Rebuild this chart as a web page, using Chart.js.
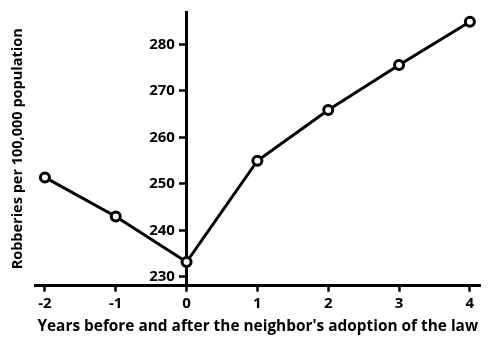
<!DOCTYPE html>
<html>
<head>
<meta charset="utf-8">
<script src="https://cdn.jsdelivr.net/npm/chart.js@4"></script>
<style>
  html, body { margin: 0; padding: 0; background: #fff; }
  #wrap { width: 488px; height: 337px; }
</style>
</head>
<body>
<div id="wrap"><canvas id="c" width="488" height="337"></canvas></div>
<script>
// Years relative to the neighbouring state's adoption of the law
const years = [-2, -1, 0, 1, 2, 3, 4];
// Robberies per 100,000 population
const robberies = [251.4, 243.0, 233.2, 255.0, 265.9, 275.6, 284.9];
// Tick labels
const yTicks = [230, 240, 250, 260, 270, 280];
const xTicks = [-2, -1, 0, 1, 2, 3, 4];

const INK = '#000';
const FONT = '"Open Sans", "DejaVu Sans", sans-serif';

const points = years.map((x, i) => ({ x: x, y: robberies[i] }));

new Chart(document.getElementById('c'), {
  type: 'line',
  data: {
    datasets: [{
      data: points,
      yAxisID: 'y',
      borderColor: INK,
      borderWidth: 3,
      pointRadius: 4.5,
      pointBorderWidth: 3,
      pointBackgroundColor: '#fff',
      pointBorderColor: INK,
      tension: 0,
      clip: false
    }]
  },
  options: {
    responsive: false,
    animation: false,
    devicePixelRatio: 1,
    layout: { padding: { top: 4, right: 5, left: 0, bottom: 0 } },
    plugins: { legend: { display: false }, tooltip: { enabled: false } },
    scales: {
      x: {
        type: 'linear',
        position: 'bottom',
        min: -2.14,
        max: 4.15,
        afterBuildTicks: s => { s.ticks = xTicks.map(v => ({ value: v })); },
        afterFit: s => { s.height = 51.3; },
        border: { display: true, color: INK, width: 3 },
        grid: { display: true, drawOnChartArea: false, drawTicks: true, tickLength: 6, tickWidth: 2.5, tickColor: INK },
        ticks: {
          color: INK, padding: 3, maxRotation: 0,
          font: { family: FONT, size: 15, weight: 'bold' },
          callback: v => String(v)
        },
        title: {
          display: true,
          text: "Years before and after the neighbor's adoption of the law",
          color: INK,
          font: { family: FONT, size: 15.4, weight: 'bold' },
          padding: { top: 0, bottom: 1 }
        }
      },
      yt: {
        type: 'linear',
        position: 'left',
        min: 228.1,
        max: 287,
        afterFit: s => { s.width = 35; },
        border: { display: false },
        grid: { display: false },
        ticks: { display: false },
        title: {
          display: true,
          text: 'Robberies per 100,000 population',
          color: INK,
          font: { family: FONT, size: 14.5, weight: 'bold' },
          padding: { top: 9, bottom: 0 }
        }
      },
      y: {
        type: 'linear',
        position: { x: 0 },
        min: 228.1,
        max: 287,
        afterBuildTicks: s => { s.ticks = yTicks.map(v => ({ value: v })); },
        border: { display: true, color: INK, width: 3 },
        grid: { display: true, drawOnChartArea: false, drawTicks: true, tickLength: 6, tickWidth: 2.5, tickColor: INK },
        ticks: {
          color: INK,
          font: { family: FONT, size: 15, weight: 'bold' },
          // labels sit right-aligned on the axis line, so trailing spaces leave the gap
          callback: v => String(v) + '   '
        }
      }
    }
  }
});
</script>
</body>
</html>
